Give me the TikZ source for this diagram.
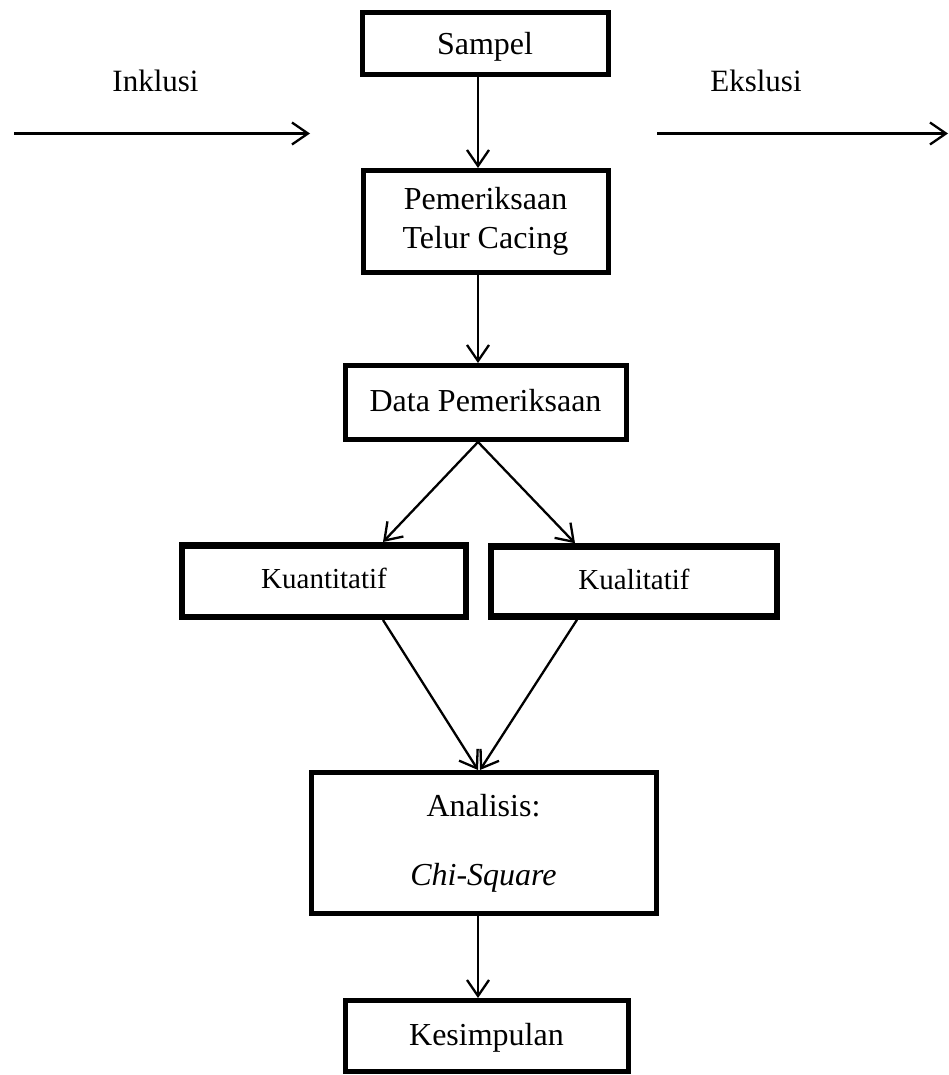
\documentclass[tikz,border=0pt]{standalone}
\usepackage{fontspec}
\setmainfont{Liberation Serif}
\usetikzlibrary{arrows.meta}
\begin{document}
\begin{tikzpicture}[x=1pt,y=-1pt,
  box/.style={draw=black, line width=5pt, inner sep=0pt, fill=white,
    font=\fontsize{32}{39}\selectfont, align=center},
  subbox/.style={box, line width=6.5pt, font=\fontsize{29}{35}\selectfont},
  conn/.style={line width=2.3pt, -{Straight Barb[length=16pt,width=22pt,line width=2.3pt]}},
  lbl/.style={font=\fontsize{31}{37}\selectfont, anchor=base, inner sep=0pt}
]
\useasboundingbox (0,0) rectangle (948,1075);
\fill[white] (0,0) rectangle (948,1075);

% guide coordinates
\coordinate (ax) at (478,0);
\coordinate (ax2) at (480,0);
\coordinate (kx) at (383,0);
\coordinate (qx) at (575,0);
\coordinate (qx2) at (577,0);

% boxes
\node[box, minimum width=246pt, minimum height=62pt, text depth=0pt] (sampel) at (485,43.5) {Sampel};
\node[box, minimum width=245pt, minimum height=102pt] (pem) at (485.5,221.5) {Pemeriksaan\\Telur Cacing};
\node[box, minimum width=281pt, minimum height=74pt, text depth=0.4em] (data) at (485.5,402.5) {Data Pemeriksaan};
\node[subbox, minimum width=284pt, minimum height=71.5pt, text depth=0.5em] (kuan) at (324,581) {Kuantitatif};
\node[subbox, minimum width=286pt, minimum height=70pt, text depth=0.5em] (kual) at (634,581.5) {Kualitatif};
\node[box, minimum width=345pt, minimum height=141pt, font=\fontsize{32}{69}\selectfont] (ana) at (483.5,843) {Analisis:\\\textit{Chi-Square}};
\node[box, minimum width=283pt, minimum height=71pt, text depth=0.3em] (kes) at (486.5,1036) {Kesimpulan};

% side labels and arrows
\node[lbl] (inkl) at (155.5,91.7) {Inklusi};
\node[lbl] (eksl) at (756,91.7) {Ekslusi};
\coordinate (inA) at (14,133.5);
\coordinate (inB) at (310,133.5);
\coordinate (exA) at (657,133.5);
\coordinate (exB) at (948,133.5);
\draw[conn] (inA) -- (inB);
\draw[conn] (exA) -- (exB);

% connectors
\draw[conn] (sampel.south -| ax) -- (pem.north -| ax);
\draw[conn] (pem.south -| ax) -- (data.north -| ax);
\draw[conn] (data.south -| ax) -- (kuan.north -| kx);
\draw[conn] (data.south -| ax) -- (kual.north -| qx);
\draw[conn] (kuan.south -| kx) -- (ana.north -| ax);
\draw[conn] (kual.south -| qx2) -- (ana.north -| ax2);
\draw[conn] (ana.south -| ax) -- (kes.north -| ax);
\end{tikzpicture}
\end{document}
